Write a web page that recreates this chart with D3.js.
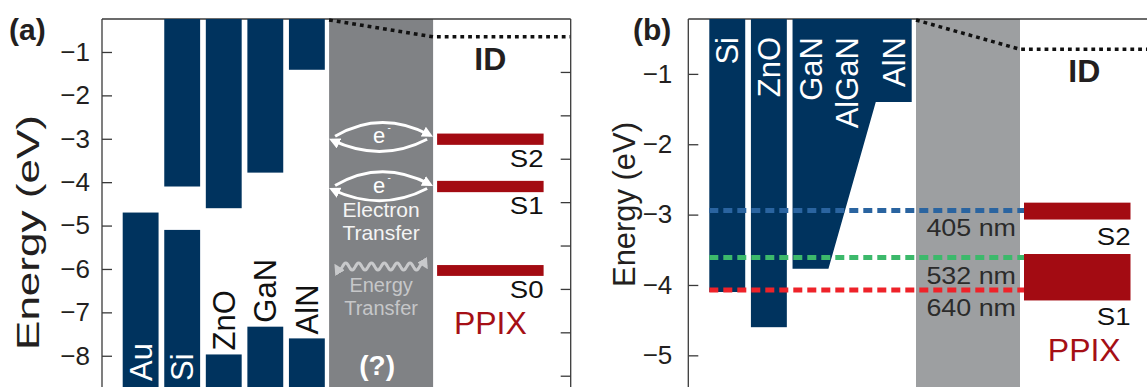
<!DOCTYPE html>
<html>
<head>
<meta charset="utf-8">
<script src="https://cdn.jsdelivr.net/npm/d3@7"></script>
<style>
  body { margin: 0; background: #fff; }
  svg text { font-family: "Liberation Sans", Arial, Helvetica, sans-serif; }
</style>
</head>
<body>
<div id="chart"></div>
<script>
// ---- panel (a) values (eV) ----
const bandsA = ["Au", "Si", "ZnO", "GaN", "AlN"];
const cbA = [null, -4.1, -4.6, -3.78, -1.41];      // conduction band minimum
const vbA = [-4.7, -5.1, -7.97, -7.33, -7.6];      // valence band max / Au Fermi level
const statesA = ["S2", "S1", "S0"];
const stateTopA = [-2.88, -3.97, -5.91];
const stateBottomA = [-3.14, -4.23, -6.16];
const ticksA = [-1, -2, -3, -4, -5, -6, -7, -8];
const rightShiftA = -0.46;                           // offset of the PPIX-side tick scale

// ---- panel (b) values (eV) ----
const bandsB = ["Si", "ZnO", "GaN", "AlGaN", "AlN"];
const cbB = [-4.1, -4.6, -3.77, null, -1.4];       // AlGaN is graded between GaN and AlN
const statesB = ["S2", "S1"];
const stateTopB = [-2.83, -3.56];
const stateBottomB = [-3.07, -4.22];
const laserNames = ["405 nm", "532 nm", "640 nm"];
const laserEnergy = [-2.94, -3.61, -4.07];
const ticksB = [-1, -2, -3, -4, -5];

const idLevel = -0.65;

// ---- styles ----
const W = 1147, H = 387, frameTop = 19;
const navy = "#00335e", stateRed = "#a30b12", textDark = "#231f20";
const laserColors = ["#2a64a0", "#3cb96b", "#ee2229"];

const svg = d3.select("#chart").append("svg")
    .attr("width", W)
    .attr("height", H);

const defs = svg.append("defs");
function arrowMarker(id, color) {
    defs.append("marker")
        .attr("id", id)
        .attr("viewBox", "0 0 10 10")
        .attr("refX", 7)
        .attr("refY", 5)
        .attr("markerWidth", 11)
        .attr("markerHeight", 11)
        .attr("markerUnits", "userSpaceOnUse")
        .attr("orient", "auto-start-reverse")
        .append("path")
        .attr("d", "M0,0 L10,5 L0,10 Z")
        .attr("fill", color);
}
arrowMarker("arrowW", "#ffffff");
arrowMarker("arrowG", "#c8c9cb");

function drawPanel(p) {
    const g = svg.append("g");
    const y = d3.scaleLinear().domain(p.yDomain).range([frameTop, H]);
    const x = d3.scaleBand().domain(p.bands).range(p.bandRange).paddingInner(0.137);
    const gapX = p.bandRange[1] + 4.3, gapW = 104;
    const ppixX = gapX + gapW + 4, ppixW = 106.5;

    // grey interface band
    g.append("rect")
        .attr("x", gapX).attr("y", frameTop)
        .attr("width", gapW).attr("height", H - frameTop)
        .attr("fill", p.gapColor);

    // frame
    g.append("line")
        .attr("x1", p.axisX).attr("x2", p.frameRight)
        .attr("y1", frameTop).attr("y2", frameTop)
        .attr("stroke", "#3a3a3a").attr("stroke-width", 1.3);

    const axis = g.append("g")
        .attr("transform", `translate(${p.axisX},0)`)
        .call(d3.axisLeft(y).tickValues(p.ticks).tickFormat(d3.format("d"))
            .tickSizeInner(-10).tickSizeOuter(0).tickPadding(p.tickPad));
    axis.select(".domain").remove();
    axis.append("line").attr("y1", frameTop).attr("y2", H)
        .attr("stroke", "#3a3a3a").attr("stroke-width", 1.3);
    axis.selectAll(".tick line").attr("stroke", "#3a3a3a").attr("stroke-width", 1.3);
    axis.selectAll(".tick text")
        .attr("fill", textDark)
        .style("font-size", "26px")
        .style("font-family", "Liberation Sans, Arial, sans-serif");

    g.append("text")
        .attr("transform", `translate(${p.labelX},${p.labelY}) rotate(-90)`)
        .attr("text-anchor", "middle")
        .attr("fill", textDark)
        .style("font-size", "31px")
        .attr("textLength", p.labelLength)
        .attr("lengthAdjust", "spacingAndGlyphs")
        .text("Energy (eV)");

    g.append("text")
        .attr("x", p.tagX).attr("y", 40)
        .attr("fill", textDark)
        .style("font-size", "30px").style("font-weight", "bold")
        .text(p.tag);

    // dotted vacuum / ID level
    g.append("path")
        .attr("d", `M${gapX},${frameTop + 1} L${gapX + gapW},${y(idLevel)} L${p.frameRight},${y(idLevel)}`)
        .attr("fill", "none")
        .attr("stroke", "#111")
        .attr("stroke-width", 3.5)
        .attr("stroke-dasharray", "3.8,4");

    g.append("text")
        .attr("x", ppixX + ppixW / 2 + p.labelShift).attr("y", y(idLevel) + 33)
        .attr("text-anchor", "middle")
        .attr("fill", textDark)
        .style("font-size", "32px").style("font-weight", "bold")
        .text("ID");

    // PPIX states
    const states = p.states.map((s, i) => ({name: s, top: p.stateTop[i], bottom: p.stateBottom[i]}));
    g.selectAll(".state")
        .data(states)
        .join("rect")
        .attr("class", "state")
        .attr("x", ppixX)
        .attr("width", ppixW)
        .attr("y", d => y(d.top))
        .attr("height", d => y(d.bottom) - y(d.top))
        .attr("fill", stateRed);

    g.selectAll(".state-label")
        .data(states)
        .join("text")
        .attr("class", "state-label")
        .attr("transform", d => `translate(${ppixX + ppixW},${y(d.bottom) + p.stateGap}) scale(1.2,1)`)
        .attr("text-anchor", "end")
        .attr("fill", "#111")
        .style("font-size", "23px")
        .text(d => d.name);

    const last = states[states.length - 1];
    g.append("text")
        .attr("x", ppixX + ppixW / 2 + p.labelShift)
        .attr("y", y(last.bottom) + p.stateGap + 36)
        .attr("text-anchor", "middle")
        .attr("fill", "#a50f15")
        .style("font-size", "32px")
        .text("PPIX");

    return {g, x, y, gapX, gapW, ppixX, ppixW};
}

// ================= panel (a) =================
const A = drawPanel({
    tag: "(a)", tagX: 9, bands: bandsA, bandRange: [122.7, 324.8],
    yDomain: [-0.24, -8.72], ticks: ticksA, tickPad: 12, axisX: 102, frameRight: 570.7,
    labelX: 39, labelY: 232.5, labelLength: 235, gapColor: "#808285",
    states: statesA, stateTop: stateTopA, stateBottom: stateBottomA,
    stateGap: 22, labelShift: 0
});

const dataA = bandsA.map((b, i) => ({name: b, cb: cbA[i], vb: vbA[i]}));

A.g.selectAll(".cb")
    .data(dataA.filter(d => d.cb !== null))
    .join("rect")
    .attr("class", "cb")
    .attr("x", d => A.x(d.name))
    .attr("width", A.x.bandwidth())
    .attr("y", frameTop)
    .attr("height", d => A.y(d.cb) - frameTop)
    .attr("fill", navy);

A.g.selectAll(".vb")
    .data(dataA)
    .join("rect")
    .attr("class", "vb")
    .attr("x", d => A.x(d.name))
    .attr("width", A.x.bandwidth())
    .attr("y", d => A.y(d.vb))
    .attr("height", d => H - A.y(d.vb))
    .attr("fill", navy);

A.g.selectAll(".band-label")
    .data(dataA)
    .join("text")
    .attr("class", "band-label")
    .attr("transform", d => {
        const inside = H - A.y(d.vb) > 100;
        return `translate(${A.x(d.name) + A.x.bandwidth() / 2},${inside ? H - 6 : A.y(d.vb) - 4}) rotate(-90)`;
    })
    .attr("dy", "0.36em")
    .attr("fill", d => H - A.y(d.vb) > 100 ? "#fff" : "#111")
    .style("font-size", "31px")
    .text(d => d.name);

// right tick scale on the PPIX side
const yRightA = d3.scaleLinear()
    .domain(A.y.domain().map(v => v - rightShiftA))
    .range(A.y.range());
const rAxis = A.g.append("g")
    .attr("transform", "translate(570.7,0)")
    .call(d3.axisRight(yRightA).tickValues(ticksA).tickSizeInner(-10).tickSizeOuter(0).tickFormat(""));
rAxis.select(".domain").remove();
rAxis.append("line").attr("y1", frameTop).attr("y2", H)
    .attr("stroke", "#3a3a3a").attr("stroke-width", 1.3);
rAxis.selectAll(".tick line").attr("stroke", "#3a3a3a").attr("stroke-width", 1.3);

// transfer annotations in the grey band
const x0 = A.gapX, x1 = A.gapX + A.gapW, xm = (x0 + x1) / 2;
function electronArrows(yc) {
    A.g.append("path")
        .attr("d", `M${x0 + 6},${yc - 1} Q${xm},${yc - 28} ${x1 - 3},${yc - 2}`)
        .attr("fill", "none").attr("stroke", "#fff").attr("stroke-width", 3)
        .attr("marker-end", "url(#arrowW)");
    A.g.append("path")
        .attr("d", `M${x1 - 6},${yc + 2} Q${xm},${yc + 26} ${x0 + 3},${yc + 3}`)
        .attr("fill", "none").attr("stroke", "#fff").attr("stroke-width", 3)
        .attr("marker-end", "url(#arrowW)");
    A.g.append("text")
        .attr("x", xm - 2).attr("y", yc + 6)
        .attr("text-anchor", "middle")
        .attr("fill", "#fff")
        .style("font-size", "22px")
        .text("e");
    A.g.append("text")
        .attr("x", xm + 8).attr("y", yc - 6)
        .attr("text-anchor", "middle")
        .attr("fill", "#fff")
        .style("font-size", "10px")
        .text("-");
}
const midState = i => (stateTopA[i] + stateBottomA[i]) / 2;
electronArrows(A.y(midState(0)) - 2);
electronArrows(A.y(midState(1)));

const yS1 = A.y(midState(1));
A.g.append("text").attr("x", xm).attr("y", yS1 + 30)
    .attr("text-anchor", "middle").attr("fill", "#f4f4f4").style("font-size", "21px").text("Electron");
A.g.append("text").attr("x", xm).attr("y", yS1 + 53)
    .attr("text-anchor", "middle").attr("fill", "#f4f4f4").style("font-size", "21px").text("Transfer");

// wavy energy transfer arrow
const yW = A.y(midState(2)) - 4;
const wave = d3.range(0, 1.0001, 1 / 140).map(t => [x0 + 7 + t * (x1 - x0 - 14), yW + 3.5 * Math.sin(t * 7 * 2 * Math.PI)]);
A.g.append("path")
    .attr("d", d3.line()(wave))
    .attr("fill", "none").attr("stroke", "#c8c9cb").attr("stroke-width", 3)
    .attr("marker-start", "url(#arrowG)")
    .attr("marker-end", "url(#arrowG)");
A.g.append("text").attr("x", xm).attr("y", yW + 26)
    .attr("text-anchor", "middle").attr("fill", "#c6c7c9").style("font-size", "20px").text("Energy");
A.g.append("text").attr("x", xm).attr("y", yW + 49)
    .attr("text-anchor", "middle").attr("fill", "#c6c7c9").style("font-size", "20px").text("Transfer");
A.g.append("text").attr("x", xm - 4).attr("y", 375)
    .attr("text-anchor", "middle").attr("fill", "#fff")
    .style("font-size", "28px").style("font-weight", "bold").text("(?)");

// ================= panel (b) =================
const B = drawPanel({
    tag: "(b)", tagX: 633, bands: bandsB, bandRange: [709.3, 911.7],
    yDomain: [-0.22, -5.45], ticks: ticksB, tickPad: 16, axisX: 688.3, frameRight: W,
    labelX: 635, labelY: 204.5, labelLength: 165, gapColor: "#9d9fa1",
    states: statesB, stateTop: stateTopB, stateBottom: stateBottomB,
    stateGap: 25, labelShift: 7
});

const dataB = bandsB.map((b, i) => ({name: b, cb: cbB[i]}));

B.g.selectAll(".cb")
    .data(dataB.filter(d => d.name === "Si" || d.name === "ZnO"))
    .join("rect")
    .attr("class", "cb")
    .attr("x", d => B.x(d.name))
    .attr("width", B.x.bandwidth())
    .attr("y", frameTop)
    .attr("height", d => B.y(d.cb) - frameTop)
    .attr("fill", navy);

// GaN -> graded AlGaN -> AlN as one shape
const gan = dataB[2], aln = dataB[4];
const xG0 = B.x(gan.name), xG1 = xG0 + B.x.bandwidth();
const xN0 = B.x(aln.name), xN1 = xN0 + B.x.bandwidth();
B.g.append("path")
    .attr("d", `M${xG0},${frameTop} L${xG0},${B.y(gan.cb)} L${xG1},${B.y(gan.cb)} L${xN0},${B.y(aln.cb)} L${xN1},${B.y(aln.cb)} L${xN1},${frameTop} Z`)
    .attr("fill", navy);

B.g.selectAll(".band-label")
    .data(dataB)
    .join("text")
    .attr("class", "band-label")
    .attr("transform", d => `translate(${B.x(d.name) + B.x.bandwidth() / 2 - (d.cb === null ? 5 : 0)},37) rotate(-90)`)
    .attr("dy", "0.36em")
    .attr("text-anchor", "end")
    .attr("fill", "#fff")
    .style("font-size", "31px")
    .text(d => d.name);

// laser photon energies
const lasers = laserNames.map((n, i) => ({name: n, e: laserEnergy[i], color: laserColors[i]}));
B.g.selectAll(".laser")
    .data(lasers)
    .join("line")
    .attr("class", "laser")
    .attr("x1", B.x(bandsB[0]))
    .attr("x2", B.ppixX)
    .attr("y1", d => B.y(d.e))
    .attr("y2", d => B.y(d.e))
    .attr("stroke", d => d.color)
    .attr("stroke-width", 5)
    .attr("stroke-dasharray", "9,5");

B.g.selectAll(".laser-label")
    .data(lasers)
    .join("text")
    .attr("class", "laser-label")
    .attr("transform", d => `translate(${B.gapX + B.gapW - 4},${B.y(d.e) + 26}) scale(1.12,1)`)
    .attr("text-anchor", "end")
    .attr("fill", "#2b2b2b")
    .style("font-size", "24px")
    .text(d => d.name);
</script>
</body>
</html>
